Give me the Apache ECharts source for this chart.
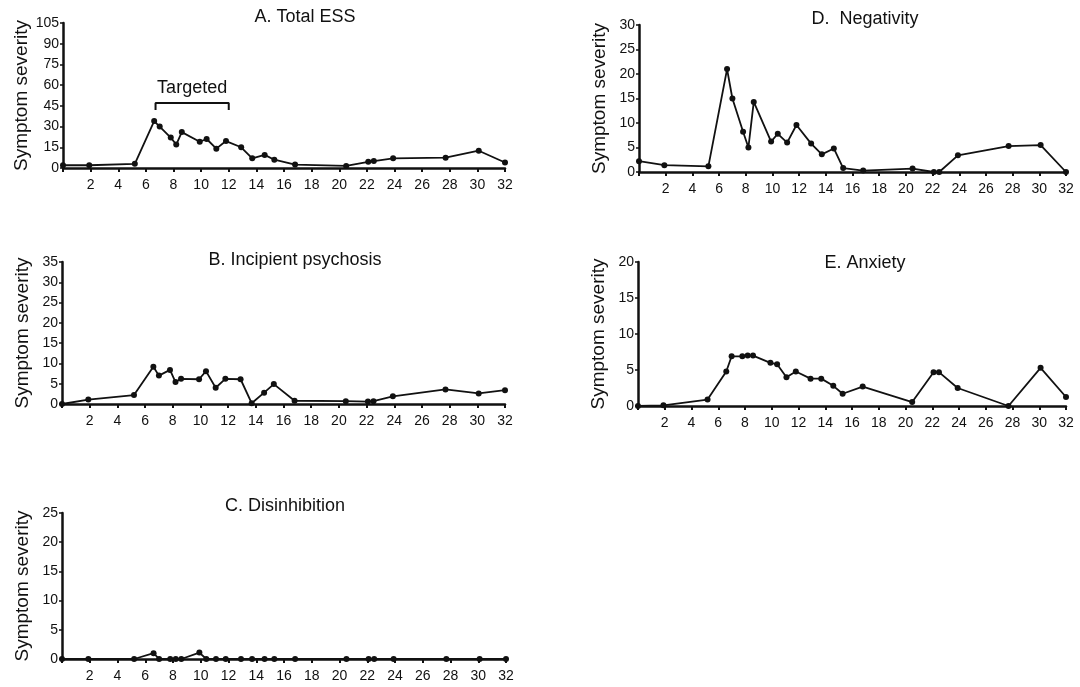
<!DOCTYPE html>
<html>
<head>
<meta charset="utf-8">
<script src="https://cdn.jsdelivr.net/npm/echarts@6/dist/echarts.min.js"></script>
<style>
  html, body { margin: 0; padding: 0; background: #fff; }
  #chart { width: 1080px; height: 687px; }
</style>
</head>
<body>
<div id="chart"></div>
<script>
// Assessment times (weeks) shared by all five symptom panels
const weeks = [0, 1.9, 5.2, 6.6, 7.0, 7.8, 8.2, 8.6, 9.9, 10.4, 11.1, 11.8, 12.9, 13.7, 14.6, 15.3, 16.8, 20.5, 22.1, 22.5, 23.9, 27.7, 30.1, 32];

// Symptom severity scores per scale
const totalEss      = [2, 2, 3, 34, 30, 22, 17, 26, 19, 21, 14, 19.5, 15, 7, 9.5, 6, 2.5, 1.5, 4.5, 5, 7, 7.5, 12.5, 4];
const psychosis     = [0, 1.1, 2.2, 9.2, 7.0, 8.4, 5.4, 6.2, 6.1, 8.1, 4.0, 6.2, 6.1, 0.2, 2.8, 4.9, 0.8, 0.7, 0.6, 0.7, 1.9, 3.6, 2.6, 3.4];
const disinhibition = [0, 0, 0, 1.0, 0, 0, 0, 0, 1.1, 0, 0, 0, 0, 0, 0, 0, 0, 0, 0, 0, 0, 0, 0, 0];
const negativity    = [2.2, 1.4, 1.15, 21.0, 15.0, 8.2, 5.0, 14.3, 6.2, 7.8, 6.0, 9.6, 5.8, 3.6, 4.8, 0.8, 0.3, 0.7, 0, 0, 3.4, 5.3, 5.5, 0];
const anxiety       = [0, 0.1, 0.9, 4.8, 6.9, 6.9, 7.0, 7.0, 6.0, 5.8, 4.0, 4.8, 3.8, 3.8, 2.8, 1.7, 2.7, 0.55, 4.7, 4.7, 2.5, 0, 5.3, 1.25];

// Axis ranges
const xMax = 32, xStep = 2;
const yMaxes  = [105, 35, 25, 30, 20];
const ySteps  = [15, 5, 5, 5, 5];

// Targeted treatment window (weeks) shown over panel A
const targetedWeeks = [6.7, 12.0];
const targetedBracket = [42, 47, 58]; // end-hook, bar, text level on the ESS scale

const panels = [
  { title: 'A. Total ESS',           values: totalEss,      grid: { left: 63,  top: 23,  width: 442, height: 145 }, tx: 300, ty: 3 },
  { title: 'B. Incipient psychosis', values: psychosis,     grid: { left: 62,  top: 262, width: 443, height: 142 }, tx: 290, ty: 246 },
  { title: 'C. Disinhibition',       values: disinhibition, grid: { left: 62,  top: 513, width: 444, height: 146 }, tx: 280, ty: 492 },
  { title: 'D.  Negativity',         values: negativity,    grid: { left: 639, top: 25,  width: 427, height: 147 }, tx: 860, ty: 5 },
  { title: 'E. Anxiety',             values: anxiety,       grid: { left: 638, top: 262, width: 428, height: 144 }, tx: 860, ty: 249 }
];

const ink = '#111';
const tickFont = "'Liberation Sans Narrow', 'Arial Narrow', 'Liberation Sans', Arial, sans-serif";
const textFont = "'Liberation Sans', Arial, sans-serif";

const chart = echarts.init(document.getElementById('chart'), null, { renderer: 'canvas' });

const option = {
  backgroundColor: '#fff',
  animation: false,
  title: panels.map(p => ({
    text: p.title, left: p.tx, top: p.ty, textAlign: 'center',
    textStyle: { fontFamily: textFont, fontSize: 18, fontWeight: 'normal', color: ink }
  })),
  grid: panels.map(p => Object.assign({ containLabel: false }, p.grid)),
  xAxis: panels.map((p, i) => ({
    type: 'value', gridIndex: i, min: 0, max: xMax, interval: xStep,
    axisLine: { show: true, onZero: false, lineStyle: { color: ink, width: 2.5 } },
    axisTick: { show: true, length: 4, lineStyle: { color: ink, width: 2 } },
    axisLabel: {
      color: ink, fontFamily: tickFont, fontSize: 14, margin: 10,
      formatter: v => (v === 0 ? '' : String(v))
    },
    splitLine: { show: false }
  })),
  yAxis: panels.map((p, i) => ({
    type: 'value', gridIndex: i, min: 0, max: yMaxes[i], interval: ySteps[i],
    name: 'Symptom severity', nameLocation: 'middle', nameRotate: 90, nameGap: 30,
    nameTextStyle: { fontFamily: textFont, fontSize: 19, color: ink },
    axisLine: { show: true, lineStyle: { color: ink, width: 2.5 } },
    axisTick: { show: true, length: 3, lineStyle: { color: ink, width: 1.5 } },
    axisLabel: { color: ink, fontFamily: tickFont, fontSize: 14, margin: 4 },
    splitLine: { show: false }
  })),
  series: panels.map((p, i) => ({
    type: 'line', xAxisIndex: i, yAxisIndex: i,
    data: weeks.map((w, k) => [w, p.values[k]]),
    symbol: 'circle', symbolSize: 6, showSymbol: true,
    lineStyle: { color: ink, width: 1.8 },
    itemStyle: { color: ink },
    z: 3
  })).concat([
    {
      // bracket marking the targeted treatment period
      type: 'line', xAxisIndex: 0, yAxisIndex: 0,
      data: [
        [targetedWeeks[0], targetedBracket[0]],
        [targetedWeeks[0], targetedBracket[1]],
        [targetedWeeks[1], targetedBracket[1]],
        [targetedWeeks[1], targetedBracket[0]]
      ],
      symbol: 'none', lineStyle: { color: ink, width: 2 }, z: 2
    },
    {
      type: 'scatter', xAxisIndex: 0, yAxisIndex: 0,
      data: [[(targetedWeeks[0] + targetedWeeks[1]) / 2, targetedBracket[2]]],
      symbolSize: 0,
      itemStyle: { opacity: 1, color: ink },
      label: {
        show: true, position: 'inside', formatter: 'Targeted', opacity: 1,
        fontFamily: textFont, fontSize: 18, color: ink
      }
    }
  ])
};

chart.setOption(option);
</script>
</body>
</html>
